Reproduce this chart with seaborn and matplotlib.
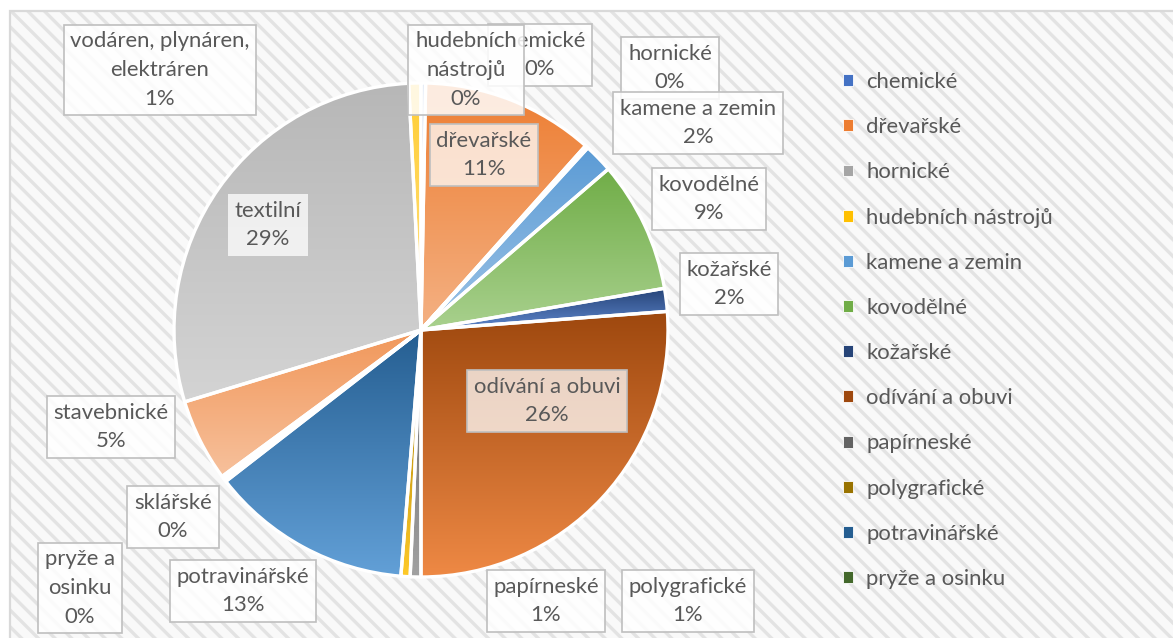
import colorsys
import numpy as np
import matplotlib
matplotlib.use("Agg")
import matplotlib.pyplot as plt
import seaborn as sns
from matplotlib.patches import Rectangle, Patch
from matplotlib.colors import to_rgb

# ---------------- data ----------------
categories = ["chemické", "dřevařské", "hornické", "hudebních nástrojů",
              "kamene a zemin", "kovodělné", "kožařské", "odívání a obuvi",
              "papírneské", "polygrafické", "potravinářské", "pryže a osinku",
              "sklářské", "stavebnické", "textilní",
              "vodáren, plynáren, elektráren"]
shares = [0.3, 11.3, 0.1, 0.1, 1.9, 8.6, 1.5, 26.2, 0.7, 0.6, 13.2, 0.2,
          0.2, 5.4, 28.9, 0.8]
label_texts = ["chemické", "dřevařské", "hornické", "hudebních\nnástrojů",
               "kamene a zemin", "kovodělné", "kožařské", "odívání a obuvi",
               "papírneské", "polygrafické", "potravinářské", "pryže a\nosinku",
               "sklářské", "stavebnické", "textilní",
               "vodáren, plynáren,\nelektráren"]
legend_count = 12
palette_hex = ["#4472C4", "#ED7D31", "#A5A5A5", "#FFC000", "#5B9BD5", "#70AD47",
               "#264478", "#9E480E", "#636363", "#997300", "#255E91", "#43682B",
               "#698ED0", "#F1975A", "#B7B7B7", "#FFCD33"]

# ---------------- layout (pixels, from top-left) ----------------
W, H = 1173, 638
pie_center_px = (421, 330)
pie_radius_px = 247
label_pos_px = [(540, 55), (484, 155), (670, 68), (466, 70), (698, 123),
                (709, 199), (729, 284), (547, 401), (546, 601), (688, 601),
                (243, 591), (80, 588), (173, 517), (111, 427), (268, 225),
                (160, 70)]
label_style = ["box"] * 16
label_style[1] = "inner"
label_style[7] = "inner"
label_style[14] = "plain"

TEXT = "#595959"
FONT = ["Lato", "DejaVu Sans"]

sns.set_theme(style="white")
plt.rcParams["font.family"] = FONT
plt.rcParams["hatch.linewidth"] = 2.4
colors = sns.color_palette(palette_hex)

fig = plt.figure(figsize=(W / 100, H / 100), dpi=100)
fig.patch.set_facecolor("white")

# fit font size to reference text width
renderer = fig.canvas.get_renderer()
probe = fig.text(0, 0, "hudebních nástrojů", fontsize=14)
pw = probe.get_window_extent(renderer).width
probe.remove()
fs = 14 * 187 / pw

ax = fig.add_axes([0, 0, 1, 1])

# background: hatched chart area + border
ax.add_patch(Rectangle((10, -20), 1200, H - 11 + 20, facecolor="#f9f9f9",
                       edgecolor="#e3e3e3", hatch="\\\\", linewidth=0, zorder=0))
ax.add_patch(Rectangle((10, -20), 1200, H - 11 + 20, facecolor="none",
                       edgecolor="#d9d9d9", linewidth=1.6, zorder=0.5))

cx, cy = pie_center_px[0], H - pie_center_px[1]
wedges, _ = ax.pie(shares, colors=colors, startangle=90, counterclock=False,
                   center=(cx, cy), radius=pie_radius_px,
                   wedgeprops=dict(edgecolor="white", linewidth=2.4))

# legend (first 12 entries, as in the reference)
handles = [Patch(facecolor=colors[i], edgecolor="white", linewidth=0.6)
           for i in range(legend_count)]
ax.legend(handles, categories[:legend_count], loc="upper left",
          bbox_to_anchor=(843, H - 72), bbox_transform=ax.transData,
          frameon=False, fontsize=fs, handlelength=0.45, handleheight=0.45,
          handletextpad=0.6, labelspacing=1.14, borderpad=0, borderaxespad=0,
          labelcolor=TEXT)


def lighten(c, f=0.4):
    h, l, s = colorsys.rgb_to_hls(*to_rgb(c))
    return np.array(colorsys.hls_to_rgb(h, l + (1 - l) * f, s))


# gradient fills clipped to each wedge
g = np.linspace(0, 1, 256)[:, None, None]
for w, c in zip(wedges, colors):
    verts = w.get_path().vertices
    x0, x1 = verts[:, 0].min(), verts[:, 0].max()
    y0, y1 = verts[:, 1].min(), verts[:, 1].max()
    top = np.array(to_rgb(c))
    bot = lighten(c)
    arr = top[None, None, :] * (1 - g) + bot[None, None, :] * g
    im = ax.imshow(arr, extent=(x0, x1, y0, y1), origin="upper",
                   aspect="auto", interpolation="bilinear", zorder=1)
    im.set_clip_path(w)
    w.set_facecolor("none")
    w.set_zorder(2)

# data labels
total = sum(shares)
for i, (txt, v) in enumerate(zip(label_texts, shares)):
    pct = int(round(v / total * 100))
    x, y = label_pos_px[i]
    st = label_style[i]
    if st == "plain":
        bb = dict(boxstyle="square,pad=0.3", facecolor=(1, 1, 1, 0.75),
                  edgecolor="none")
    elif st == "inner":
        bb = dict(boxstyle="square,pad=0.3", facecolor=(1, 1, 1, 0.75),
                  edgecolor="#bfbfbf", linewidth=1.2)
    else:
        bb = dict(boxstyle="square,pad=0.3", facecolor=(1, 1, 1, 0.85),
                  edgecolor="#bfbfbf", linewidth=1.2)
    ax.text(x, H - y, f"{txt}\n{pct}%", ha="center", va="center",
            multialignment="center", fontsize=fs, color=TEXT,
            linespacing=1.54, bbox=bb, zorder=5 + i * 0.01)

ax.set_xlim(0, W)
ax.set_ylim(0, H)
ax.set_aspect("auto")
ax.axis("off")

fig.savefig("out.png", dpi=100, facecolor="white")
